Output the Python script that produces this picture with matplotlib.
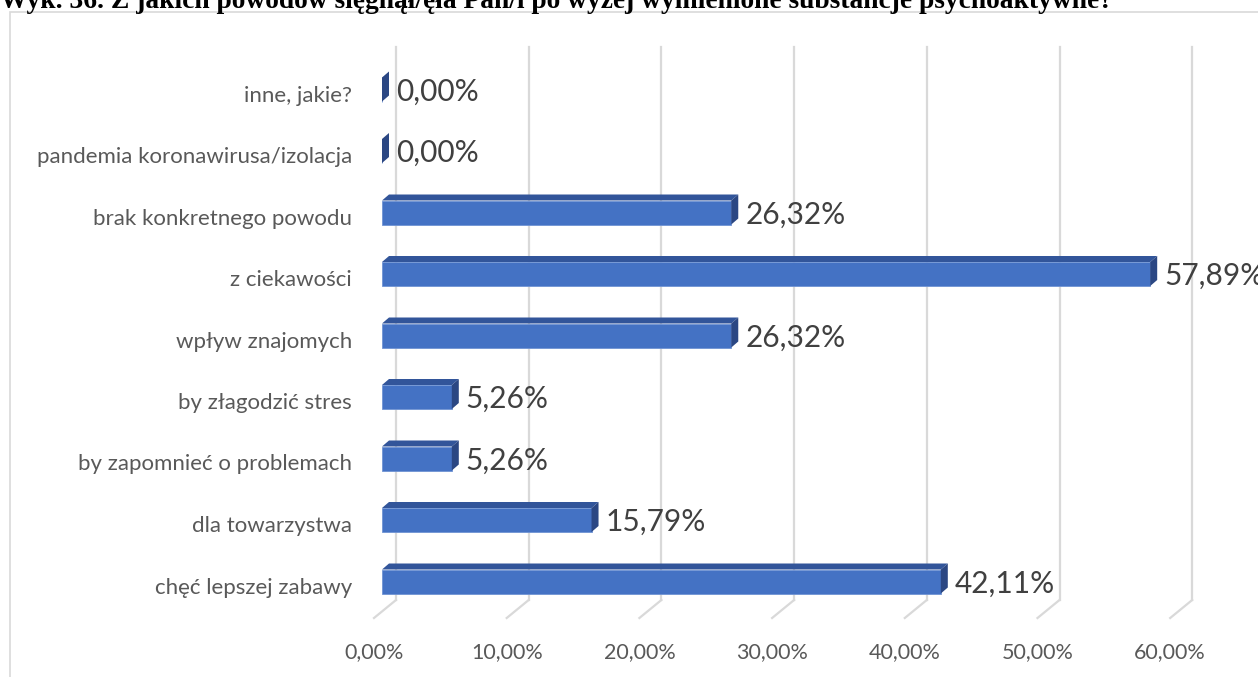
import matplotlib
matplotlib.use("Agg")
import matplotlib.pyplot as plt
from matplotlib.patches import Polygon, Rectangle
from matplotlib.transforms import ScaledTranslation

# categories from bottom to top (Excel order)
categories = [
    "chęć lepszej zabawy",
    "dla towarzystwa",
    "by zapomnieć o problemach",
    "by złagodzić stres",
    "wpływ znajomych",
    "z ciekawości",
    "brak konkretnego powodu",
    "pandemia koronawirusa/izolacja",
    "inne, jakie?",
]
values = [42.11, 15.79, 5.26, 5.26, 26.32, 57.89, 26.32, 0.00, 0.00]
x_ticks = [0, 10, 20, 30, 40, 50, 60]
x_tick_labels = ["0,00%", "10,00%", "20,00%", "30,00%", "40,00%", "50,00%", "60,00%"]
title = "Wyk. 36. Z jakich powodów sięgnął/ęła Pan/i po wyżej wymienione substancje psychoaktywne?"

W, H, DPI = 1258, 677, 100
FRONT_COL = "#4472C4"
TOP_COL = "#32559A"
SIDE_COL = "#2B4783"
GRID_COL = "#D9D9D9"

# layout in pixels
L, R, T, B = 360, 1258, 40, 618
X0_PX, PX_PER_UNIT = 382, 13.27
Y0_PX, PX_PER_CAT = 581.5, 61.5
BAR_PX = 24
DEPTH = (7, 6)          # bar depth offset (px)
WALL_BACK, WALL_FRONT = 14, -8  # floor offsets relative to bar front (px)
FLOOR_RISE = 18

fig = plt.figure(figsize=(W / DPI, H / DPI), dpi=DPI)
ax = fig.add_axes([L / W, 1 - B / H, (R - L) / W, (B - T) / H])
ax.set_xlim((L - X0_PX) / PX_PER_UNIT, (R - X0_PX) / PX_PER_UNIT)
ax.set_ylim(-(B - Y0_PX) / PX_PER_CAT, (Y0_PX - T) / PX_PER_CAT)
for s in ax.spines.values():
    s.set_visible(False)

dx = 1 / PX_PER_UNIT
dy = 1 / PX_PER_CAT
y_floor = ax.get_ylim()[0]

# back wall gridlines and floor diagonals
for xv in x_ticks:
    xb = xv + WALL_BACK * dx
    xf = xv + WALL_FRONT * dx
    ax.plot([xb, xb], [y_floor + FLOOR_RISE * dy, y_floor + (B - 47) * dy],
            color=GRID_COL, lw=1.6, zorder=1, clip_on=False)
    ax.plot([xb, xf], [y_floor + FLOOR_RISE * dy, y_floor],
            color=GRID_COL, lw=1.6, zorder=1, clip_on=False)

# 3D-looking bars
ypos = list(range(len(categories)))
h = BAR_PX * dy
ddx, ddy = DEPTH[0] * dx, DEPTH[1] * dy
ax.barh(ypos, values, height=h, color=FRONT_COL, edgecolor="#6F93D3",
        linewidth=0.6, zorder=3)
for y, v in zip(ypos, values):
    top = y + h / 2
    bot = y - h / 2
    ax.add_patch(Polygon([(0, top), (v, top), (v + ddx, top + ddy), (ddx, top + ddy)],
                         closed=True, facecolor=TOP_COL, edgecolor="none", zorder=3))
    ax.add_patch(Polygon([(v, bot), (v, top), (v + ddx, top + ddy), (v + ddx, bot + ddy)],
                         closed=True, facecolor=SIDE_COL, edgecolor="none", zorder=3))
    ax.text(v + 14 * dx, y - 2 * dy, f"{v:.2f}%".replace(".", ","), va="center", ha="left",
            fontsize=21.5, color="#404040", family="Lato", zorder=4)

# axis labels
ax.set_yticks(ypos)
ax.set_yticklabels(categories, fontsize=16, color="#595959", family="Lato")
ax.set_xticks(x_ticks)
ax.set_xticklabels(x_tick_labels, fontsize=15.5, color="#595959", family="Lato")
ax.tick_params(axis="both", length=0)
ax.tick_params(axis="x", pad=17)
ax.tick_params(axis="y", pad=(L - 352) * 0.72)
shift = ScaledTranslation(WALL_FRONT / DPI, 0, fig.dpi_scale_trans)
for lab in ax.get_xticklabels():
    lab.set_transform(lab.get_transform() + shift)
yshift = ScaledTranslation(0, -4 / DPI, fig.dpi_scale_trans)
for lab in ax.get_yticklabels():
    lab.set_transform(lab.get_transform() + yshift)

# chart border and title (title is clipped at the top in the source)
fig.patches.append(Rectangle((10 / W, -0.1), 1.2, 1 - 12 / H + 0.1, transform=fig.transFigure,
                             fill=False, edgecolor=GRID_COL, lw=1.2))
fig.text(0, 1 - 8 / H, title, va="baseline", ha="left", fontsize=19.8,
         family="Liberation Serif", weight="bold", color="black")

fig.savefig("out.png", dpi=DPI)
